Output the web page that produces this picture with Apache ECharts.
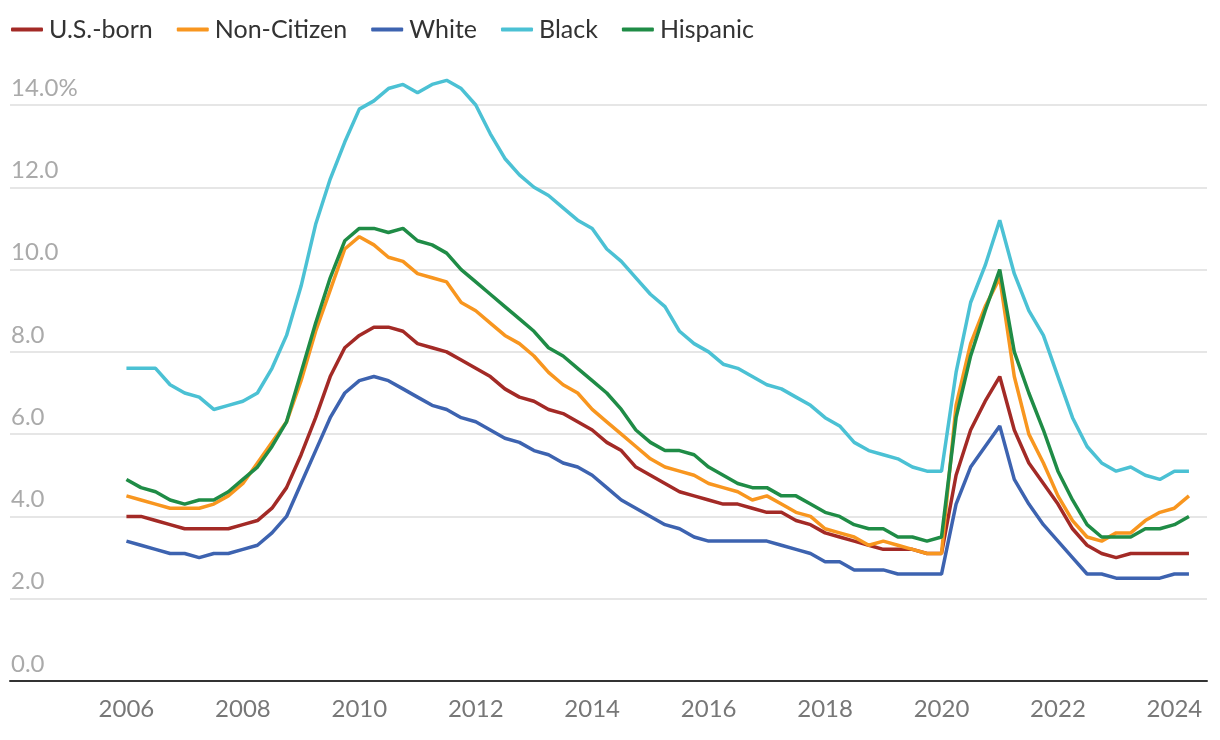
<!DOCTYPE html>
<html>
<head>
<meta charset="utf-8">
<script src="https://cdn.jsdelivr.net/npm/echarts@6/dist/echarts.min.js"></script>
<style>
html,body{margin:0;padding:0;background:#fff;}
#chart{width:1220px;height:740px;}
</style>
</head>
<body>
<div id="chart"></div>
<script>
const quarters = ['2006Q1','2006Q2','2006Q3','2006Q4','2007Q1','2007Q2','2007Q3','2007Q4',
'2008Q1','2008Q2','2008Q3','2008Q4','2009Q1','2009Q2','2009Q3','2009Q4',
'2010Q1','2010Q2','2010Q3','2010Q4','2011Q1','2011Q2','2011Q3','2011Q4',
'2012Q1','2012Q2','2012Q3','2012Q4','2013Q1','2013Q2','2013Q3','2013Q4',
'2014Q1','2014Q2','2014Q3','2014Q4','2015Q1','2015Q2','2015Q3','2015Q4',
'2016Q1','2016Q2','2016Q3','2016Q4','2017Q1','2017Q2','2017Q3','2017Q4',
'2018Q1','2018Q2','2018Q3','2018Q4','2019Q1','2019Q2','2019Q3','2019Q4',
'2020Q1','2020Q2','2020Q3','2020Q4','2021Q1','2021Q2','2021Q3','2021Q4',
'2022Q1','2022Q2','2022Q3','2022Q4','2023Q1','2023Q2','2023Q3','2023Q4',
'2024Q1','2024Q2'];

const usBorn = [4.0,4.0,3.9,3.8,3.7,3.7,3.7,3.7,3.8,3.9,4.2,4.7,5.5,6.4,7.4,8.1,8.4,8.6,8.6,8.5,8.2,
8.1,8.0,7.8,7.6,7.4,7.1,6.9,6.8,6.6,6.5,6.3,6.1,5.8,5.6,5.2,5.0,4.8,4.6,4.5,4.4,
4.3,4.3,4.2,4.1,4.1,3.9,3.8,3.6,3.5,3.4,3.3,3.2,3.2,3.2,3.1,3.1,
5.0,6.1,6.8,7.4,6.1,5.3,4.8,4.3,3.7,3.3,3.1,3.0,3.1,3.1,3.1,3.1,3.1];

const nonCitizen = [4.5,4.4,4.3,4.2,4.2,4.2,4.3,4.5,4.8,5.3,5.8,6.3,7.3,8.5,9.5,10.5,10.8,10.6,10.3,10.2,9.9,
9.8,9.7,9.2,9.0,8.7,8.4,8.2,7.9,7.5,7.2,7.0,6.6,6.3,6.0,5.7,5.4,5.2,5.1,5.0,4.8,
4.7,4.6,4.4,4.5,4.3,4.1,4.0,3.7,3.6,3.5,3.3,3.4,3.3,3.2,3.1,3.1,
6.7,8.2,9.1,9.8,7.4,6.0,5.3,4.5,3.9,3.5,3.4,3.6,3.6,3.9,4.1,4.2,4.5];

const white = [3.4,3.3,3.2,3.1,3.1,3.0,3.1,3.1,3.2,3.3,3.6,4.0,4.8,5.6,6.4,7.0,7.3,7.4,7.3,7.1,6.9,
6.7,6.6,6.4,6.3,6.1,5.9,5.8,5.6,5.5,5.3,5.2,5.0,4.7,4.4,4.2,4.0,3.8,3.7,3.5,3.4,
3.4,3.4,3.4,3.4,3.3,3.2,3.1,2.9,2.9,2.7,2.7,2.7,2.6,2.6,2.6,2.6,
4.3,5.2,5.7,6.2,4.9,4.3,3.8,3.4,3.0,2.6,2.6,2.5,2.5,2.5,2.5,2.6,2.6];

const black = [7.6,7.6,7.6,7.2,7.0,6.9,6.6,6.7,6.8,7.0,7.6,8.4,9.6,11.1,12.2,13.1,13.9,14.1,14.4,14.5,14.3,
14.5,14.6,14.4,14.0,13.3,12.7,12.3,12.0,11.8,11.5,11.2,11.0,10.5,10.2,9.8,9.4,9.1,8.5,8.2,8.0,
7.7,7.6,7.4,7.2,7.1,6.9,6.7,6.4,6.2,5.8,5.6,5.5,5.4,5.2,5.1,5.1,
7.5,9.2,10.1,11.2,9.9,9.0,8.4,7.4,6.4,5.7,5.3,5.1,5.2,5.0,4.9,5.1,5.1];

const hispanic = [4.9,4.7,4.6,4.4,4.3,4.4,4.4,4.6,4.9,5.2,5.7,6.3,7.5,8.7,9.8,10.7,11.0,11.0,10.9,11.0,10.7,
10.6,10.4,10.0,9.7,9.4,9.1,8.8,8.5,8.1,7.9,7.6,7.3,7.0,6.6,6.1,5.8,5.6,5.6,5.5,5.2,
5.0,4.8,4.7,4.7,4.5,4.5,4.3,4.1,4.0,3.8,3.7,3.7,3.5,3.5,3.4,3.5,
6.4,7.9,9.0,10.0,8.0,7.0,6.1,5.1,4.4,3.8,3.5,3.5,3.5,3.7,3.7,3.8,4.0];

const seriesNames = ['U.S.-born','Non-Citizen','White','Black','Hispanic'];
const seriesData = [usBorn, nonCitizen, white, black, hispanic];
const colors = ['#a32a26','#f8961f','#3d63b0','#4bc1d4','#1f8c46'];
const yTicks = [0,2,4,6,8,10,12,14];

function qToYear(q){
  const y = parseInt(q.slice(0,4),10);
  const n = parseInt(q.slice(5),10);
  return y + (n-1)/4;
}

const FONT = 'Lato';
const chart = echarts.init(document.getElementById('chart'), null, {renderer:'canvas'});
chart.setOption({
  animation:false,
  backgroundColor:'#fff',
  color: colors,
  textStyle:{fontFamily:FONT},
  legend:{
    left:6, top:12,
    icon:'roundRect',
    itemWidth:32, itemHeight:4,
    itemGap:24,
    textStyle:{fontFamily:FONT, fontSize:25, color:'#333', padding:[0,0,0,1]},
    data: seriesNames
  },
  grid:{left:10, right:13, top:105, bottom:59, containLabel:false},
  xAxis:{
    type:'value',
    min:2004, max:2024.56, interval:2,
    axisLine:{show:true, onZero:false, lineStyle:{color:'#333', width:2}},
    axisTick:{show:false},
    splitLine:{show:false},
    axisLabel:{
      fontFamily:FONT, fontSize:24, color:'#777', margin:16,
      showMaxLabel:false,
      formatter:function(v){ if(v < 2006 || Math.abs(v - Math.round(v))>1e-6 || Math.round(v)%2!==0) return ''; return String(Math.round(v)); }
    }
  },
  yAxis:{
    type:'value',
    min:0, max:14, interval:2,
    axisLine:{show:false},
    axisTick:{show:false},
    splitLine:{show:true, lineStyle:{color:'#e6e6e6', width:2}},
    axisLabel:{
      inside:true, margin:1,
      fontFamily:FONT, fontSize:24, color:'#aaa',
      align:'left', verticalAlign:'bottom',
      padding:[0,0,5,0],
      formatter:function(v){ if(yTicks.indexOf(v)<0) return ''; return v===14 ? v.toFixed(1)+'%' : v.toFixed(1); }
    }
  },
  series: seriesNames.map(function(name, k){
    return {
      name:name, type:'line', showSymbol:false, symbol:'none', clip:false,
      lineStyle:{width:3.5, color:colors[k]},
      itemStyle:{color:colors[k]},
      emphasis:{disabled:true},
      data: quarters.map(function(q, i){ return [qToYear(q), seriesData[k][i]]; })
    };
  })
});
</script>
</body>
</html>
